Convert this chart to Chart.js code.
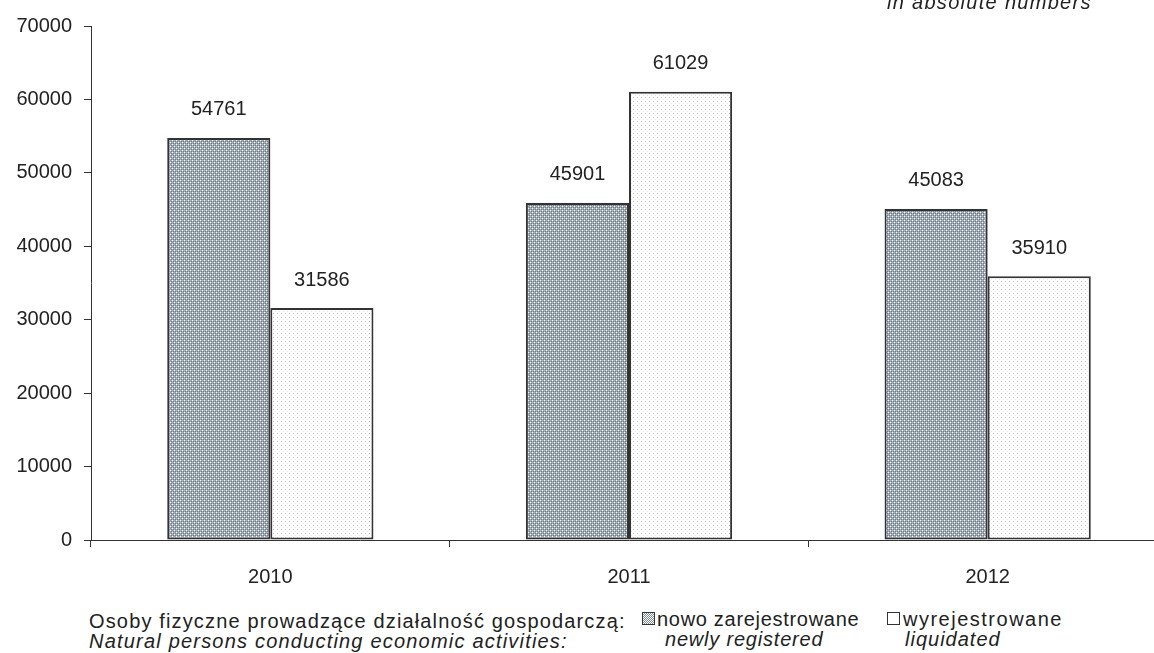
<!DOCTYPE html>
<html>
<head>
<meta charset="utf-8">
<script src="https://cdn.jsdelivr.net/npm/chart.js@4.4.0/dist/chart.umd.min.js"></script>
<style>
  html, body { margin: 0; padding: 0; background: #fff; overflow: hidden; width: 1154px; height: 653px; }
  body { position: relative; font-family: "Liberation Sans", Arial, sans-serif; color: #222; }
  #wrap { position: absolute; left: 0; top: 0; width: 1167px; height: 600px; }
  .t { position: absolute; font-size: 20px; white-space: nowrap; line-height: 20px; letter-spacing: 1px; }
  .i { font-style: italic; }
  .box { position: absolute; width: 11px; height: 11px; border: 1px solid #333; }
</style>
</head>
<body>
<div id="wrap"><canvas id="grafico"></canvas></div>
<div class="t i" style="left:887px; top:-8px; letter-spacing:1.3px;">in absolute numbers</div>
<div class="t" style="left:89px; top:611px; letter-spacing:1.15px;">Osoby fizyczne prowadzące działalność gospodarczą:</div>
<div class="t i" style="left:89px; top:631px; letter-spacing:1.2px;">Natural persons conducting economic activities:</div>
<div class="box" id="box1" style="left:642px; top:612px;"></div>
<div class="t" style="left:657px; top:609px; letter-spacing:0.7px;">nowo zarejestrowane</div>
<div class="t i" style="left:665px; top:629px; letter-spacing:0.8px;">newly registered</div>
<div class="box" id="box2" style="left:887px; top:612px;"></div>
<div class="t" style="left:903px; top:609px; letter-spacing:1.5px;">wyrejestrowane</div>
<div class="t i" style="left:905px; top:629px; letter-spacing:1px;">liquidated</div>
<script>
const anni = ["2010", "2011", "2012"];
const nowoZarejestrowane = [54761, 45901, 45083];
const wyrejestrowane = [31586, 61029, 35910];
const etichette = ["nowo zarejestrowane", "wyrejestrowane"];

// pattern scuro (reticolo) e chiaro (puntini)
function patternScuro() {
    const c = document.createElement("canvas");
    c.width = 4; c.height = 4;
    const g = c.getContext("2d");
    g.fillStyle = "#a3adb7";
    g.fillRect(0, 0, 4, 4);
    g.fillStyle = "#6e7c8a";
    g.fillRect(1, 1, 1, 1);
    g.fillRect(3, 3, 1, 1);
    g.fillRect(1, 3, 1, 1);
    g.fillRect(3, 1, 1, 1);
    g.fillStyle = "#ffffff";
    g.fillRect(0, 0, 1, 1);
    g.fillRect(2, 2, 1, 1);
    return g.createPattern(c, "repeat");
}
function patternChiaro() {
    const c = document.createElement("canvas");
    c.width = 4; c.height = 4;
    const g = c.getContext("2d");
    g.fillStyle = "#ffffff";
    g.fillRect(0, 0, 4, 4);
    g.fillStyle = "#b8bcc5";
    g.fillRect(1, 1, 1, 1);
    g.fillStyle = "#e6e8ec";
    g.fillRect(3, 3, 1, 1);
    return g.createPattern(c, "repeat");
}

document.getElementById("box1").style.background = "repeating-conic-gradient(#7f8b98 0 25%, #fff 0 50%) 0 0/2px 2px";
document.getElementById("box2").style.background = "#fff";

// etichette valori sopra le barre
const valoriPlugin = {
    id: "valori",
    afterDatasetsDraw(chart) {
        const ctx = chart.ctx;
        ctx.save();
        ctx.font = "20px 'Liberation Sans', Arial, sans-serif";
        ctx.fillStyle = "#222";
        ctx.textAlign = "center";
        ctx.textBaseline = "middle";
        chart.data.datasets.forEach((ds, i) => {
            chart.getDatasetMeta(i).data.forEach((bar, j) => {
                ctx.fillText(String(ds.data[j]), bar.x, bar.y - 28);
            });
        });
        ctx.restore();
    }
};

const ctx = document.getElementById("grafico").getContext("2d");
window.grafico = new Chart(ctx, {
    type: "bar",
    data: {
        labels: anni,
        datasets: [{
            label: etichette[0],
            data: nowoZarejestrowane,
            backgroundColor: patternScuro(),
            borderColor: "#333",
            borderWidth: 2,
            borderSkipped: false
        }, {
            label: etichette[1],
            data: wyrejestrowane,
            backgroundColor: patternChiaro(),
            borderColor: "#333",
            borderWidth: 2,
            borderSkipped: false
        }]
    },
    options: {
        responsive: true,
        maintainAspectRatio: false,
        animation: false,
        layout: { padding: { top: 26, right: 0, left: 0, bottom: 0 } },
        categoryPercentage: 0.575,
        barPercentage: 1,
        plugins: {
            legend: { display: false },
            tooltip: { enabled: false }
        },
        scales: {
            x: {
                offset: true,
                afterFit: s => { s.height = 60; },
                grid: { display: true, drawOnChartArea: false, offset: true, tickLength: 7, color: "#333", lineWidth: 1 },
                border: { display: true, color: "#333", width: 1 },
                ticks: { color: "#222", padding: 18, font: { family: "'Liberation Sans', Arial", size: 20 } }
            },
            y: {
                min: 0,
                max: 70000,
                afterFit: s => { s.width = 91; },
                grid: { display: true, drawOnChartArea: false, tickLength: 7, color: "#333", lineWidth: 1 },
                border: { display: true, color: "#333", width: 1 },
                ticks: { stepSize: 10000, color: "#222", padding: 12, font: { family: "'Liberation Sans', Arial", size: 20 },
                         callback: v => String(v) }
            }
        }
    },
    plugins: [valoriPlugin]
});
</script>
</body>
</html>
